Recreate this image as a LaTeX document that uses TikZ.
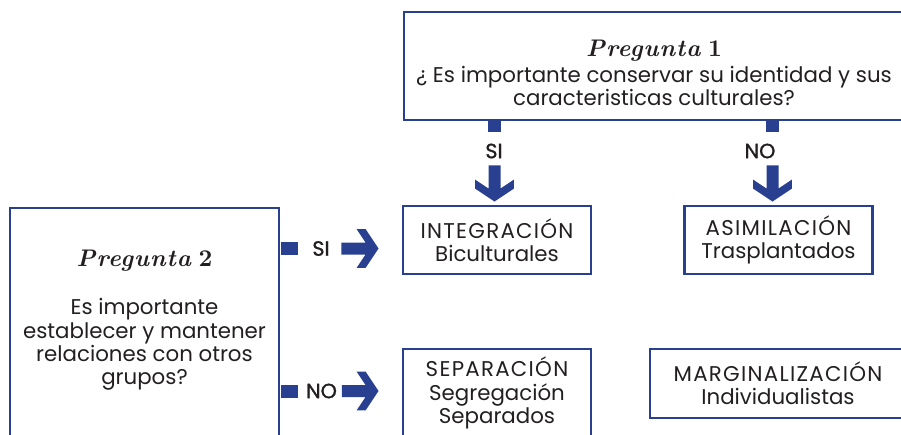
\documentclass[tikz,border=0pt]{standalone}
\usepackage{fontspec}
\newfontfamily\gothfont{Poppins}
\newfontfamily\capfont{Poppins}[LetterSpace=6]
\newfontfamily\answerfont{Poppins}[FakeBold=1.2]
\newfontfamily\titlefont{lmroman10-bold}[Extension=.otf, ItalicFont=lmroman10-bolditalic, LetterSpace=4]
\usepackage{tikz}
\usetikzlibrary{calc}
\definecolor{boxblue}{RGB}{41, 64, 145}
\definecolor{inkgray}{RGB}{35, 31, 32}

% fat arrow: shaft from #1, tip at #2
\newcommand{\fatarrow}[2]{%
  \fill[boxblue] ($(#1)!4.5pt!-90:(#2)$) -- ($(#2)!9.75pt!(#1)!4.5pt!90:(#1)$)
    -- ($(#2)!16.5pt!(#1)!14.6pt!90:(#1)$) -- ($(#2)!9.75pt!(#1)!14.6pt!90:(#1)$)
    -- (#2) -- ($(#2)!9.75pt!(#1)!14.6pt!-90:(#1)$) -- ($(#2)!16.5pt!(#1)!14.6pt!-90:(#1)$)
    -- ($(#2)!9.75pt!(#1)!4.5pt!-90:(#1)$) -- ($(#1)!4.5pt!90:(#2)$) -- cycle;}
\newcommand{\qtitle}[1]{{\titlefont\fontsize{18}{18}\selectfont\itshape Pregunta\/\hspace{0.25em}\upshape#1}}

\begin{document}
\begin{tikzpicture}[x=0.75pt, y=-0.75pt,
  qbox/.style={draw=boxblue, line width=2.2pt, inner sep=0pt, align=center, text=inkgray,
    font=\gothfont\fontsize{16}{17.5}\selectfont},
  vstub/.style={fill=boxblue, inner sep=0pt, minimum width=9.75pt, minimum height=9pt},
  hstub/.style={fill=boxblue, inner sep=0pt, minimum width=12.75pt, minimum height=9.75pt},
  lbl/.style={text=inkgray, inner xsep=3pt, inner ysep=5pt, minimum width=30pt,
    font=\answerfont\fontsize{15.5}{17.5}\selectfont}]
  \clip (0,0) rectangle (901,435);

  % Question 1
  \node[qbox, minimum width=375pt, minimum height=81pt] (q1) at (654,66) {
    \rule{0pt}{23pt}\qtitle{1}\\[2pt]
    ¿ Es importante conservar su identidad y sus\\
    caracteristicas culturales?
  };

  % Question 2
  \node[qbox, minimum width=201.75pt, minimum height=174pt] (q2) at (144.5,324) {
    \qtitle{2}\\[19pt]
    Es importante\\
    establecer y mantener\\
    relaciones con otros\\
    grupos?\rule[-10pt]{0pt}{0pt}
  };

  % Outcomes
  \node[qbox, minimum width=141pt, minimum height=51pt] (integ) at (497,240) {{\capfont INTEGRACIÓN}\\Biculturales};
  \node[qbox, minimum width=141pt, minimum height=51pt] (asim) at (778.5,240) {{\capfont ASIMILACIÓN}\\Trasplantados};
  \node[qbox, minimum width=141pt, minimum height=66pt] (separ) at (497,393) {{\capfont SEPARACIÓN}\\Segregación\\Separados};
  \node[qbox, minimum width=192pt, minimum height=51.75pt] (marg) at (778,383.5) {{\capfont MARGINALIZACIÓN}\\Individualistas};

  % Answers to question 1
  \node[vstub] (s1) at (494.5,126) {};
  \node[vstub] (s2) at (772.5,126) {};
  \node[lbl] (si1) at (494,151) {SI};
  \node[lbl] (no1) at (760,151) {NO};
  \coordinate (t1) at ($(s1 |- integ.north)+(0,-3)$);
  \coordinate (t2) at ($(s2 |- asim.north)+(0,-3)$);
  \fatarrow{s1 |- si1.south}{t1}
  \fatarrow{s2 |- no1.south}{t2}

  % Answers to question 2
  \node[hstub] (s3) at (289.5,248.5) {};
  \node[hstub] (s4) at (289.5,391) {};
  \node[lbl] (si2) at (321,248.5) {SI};
  \node[lbl] (no2) at (321.5,391) {NO};
  \coordinate (t3) at ($(si2.east -| integ.west)+(-23,0)$);
  \coordinate (t4) at ($(no2.east -| separ.west)+(-23,0)$);
  \fatarrow{si2.east}{t3}
  \fatarrow{no2.east}{t4}
\end{tikzpicture}
\end{document}
